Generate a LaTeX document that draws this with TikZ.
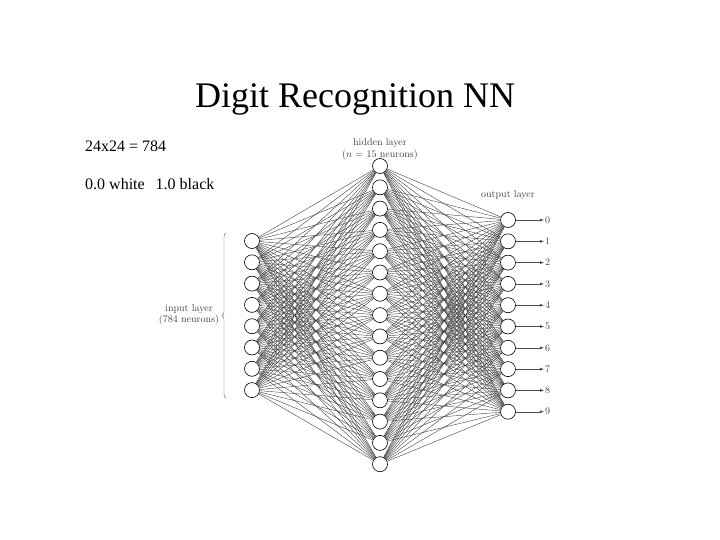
\documentclass[tikz,border=0pt]{standalone}
\usepackage{fontspec}
\newfontfamily\slidefont{Liberation Serif}
\usetikzlibrary{decorations.pathreplacing}

\tikzset{
  neuron/.style={circle, draw, line width=0.6pt, fill=white, minimum size=15pt, inner sep=0pt},
  synapse/.style={black!75, line width=0.4pt},
  netlabel/.style={font=\fontsize{10}{11.5}\selectfont, text=black!75, inner sep=1pt},
  slidetext/.style={font=\slidefont\fontsize{16}{18}\selectfont, anchor=west, inner sep=0pt}
}

\begin{document}
\begin{tikzpicture}[x=1pt, y=-1pt]
    \useasboundingbox (0,0) rectangle (720,540);

    % slide text
    \node[font=\slidefont\fontsize{36}{40}\selectfont, anchor=base, inner sep=0pt] (title) at (355,108) {Digit Recognition NN};
    \node[slidetext] (pixels) at (85,146) {24x24 = 784};
    \node[slidetext] (scale) at (85,184) {0.0 white\hspace{11pt}1.0 black};

    % layers
    \foreach \i in {1,...,8}
        \node[neuron] (in-\i) at (252,{241+21.3*(\i-1)}) {};
    \foreach \i in {1,...,15}
        \node[neuron] (hid-\i) at (380,{166+21.3*(\i-1)}) {};
    \foreach \i [evaluate=\i as \d using int(\i-1)] in {1,...,10} {
        \node[neuron] (out-\i) at (508,{220+21.3*(\i-1)}) {};
        \node[netlabel, anchor=west] (digit-\i) at (544,{220+21.3*(\i-1)}) {\d};
        \draw[-latex, black!70, line width=0.4pt] (out-\i) -- (digit-\i);
    }

    % connections
    \foreach \i in {1,...,8}
        \foreach \j in {1,...,15}
            \draw[synapse] (in-\i) -- (hid-\j);
    \foreach \j in {1,...,15}
        \foreach \k in {1,...,10}
            \draw[synapse] (hid-\j) -- (out-\k);

    % labels
    \node[netlabel] (hidlabel) at (380,143) {hidden layer};
    \node[netlabel] (hidcount) at (380,155) {($n$ = 15 neurons)};
    \node[netlabel] (outlabel) at (508,195) {output layer};

    \coordinate (brace-bot) at (226,398);
    \coordinate (brace-top) at (226,233);
    \draw[black!60, decorate, decoration={brace, amplitude=4pt}] (brace-bot) -- (brace-top);
    \node[netlabel, align=center] (inlabel) at (189,315) {input layer\\(784 neurons)};
\end{tikzpicture}
\end{document}
